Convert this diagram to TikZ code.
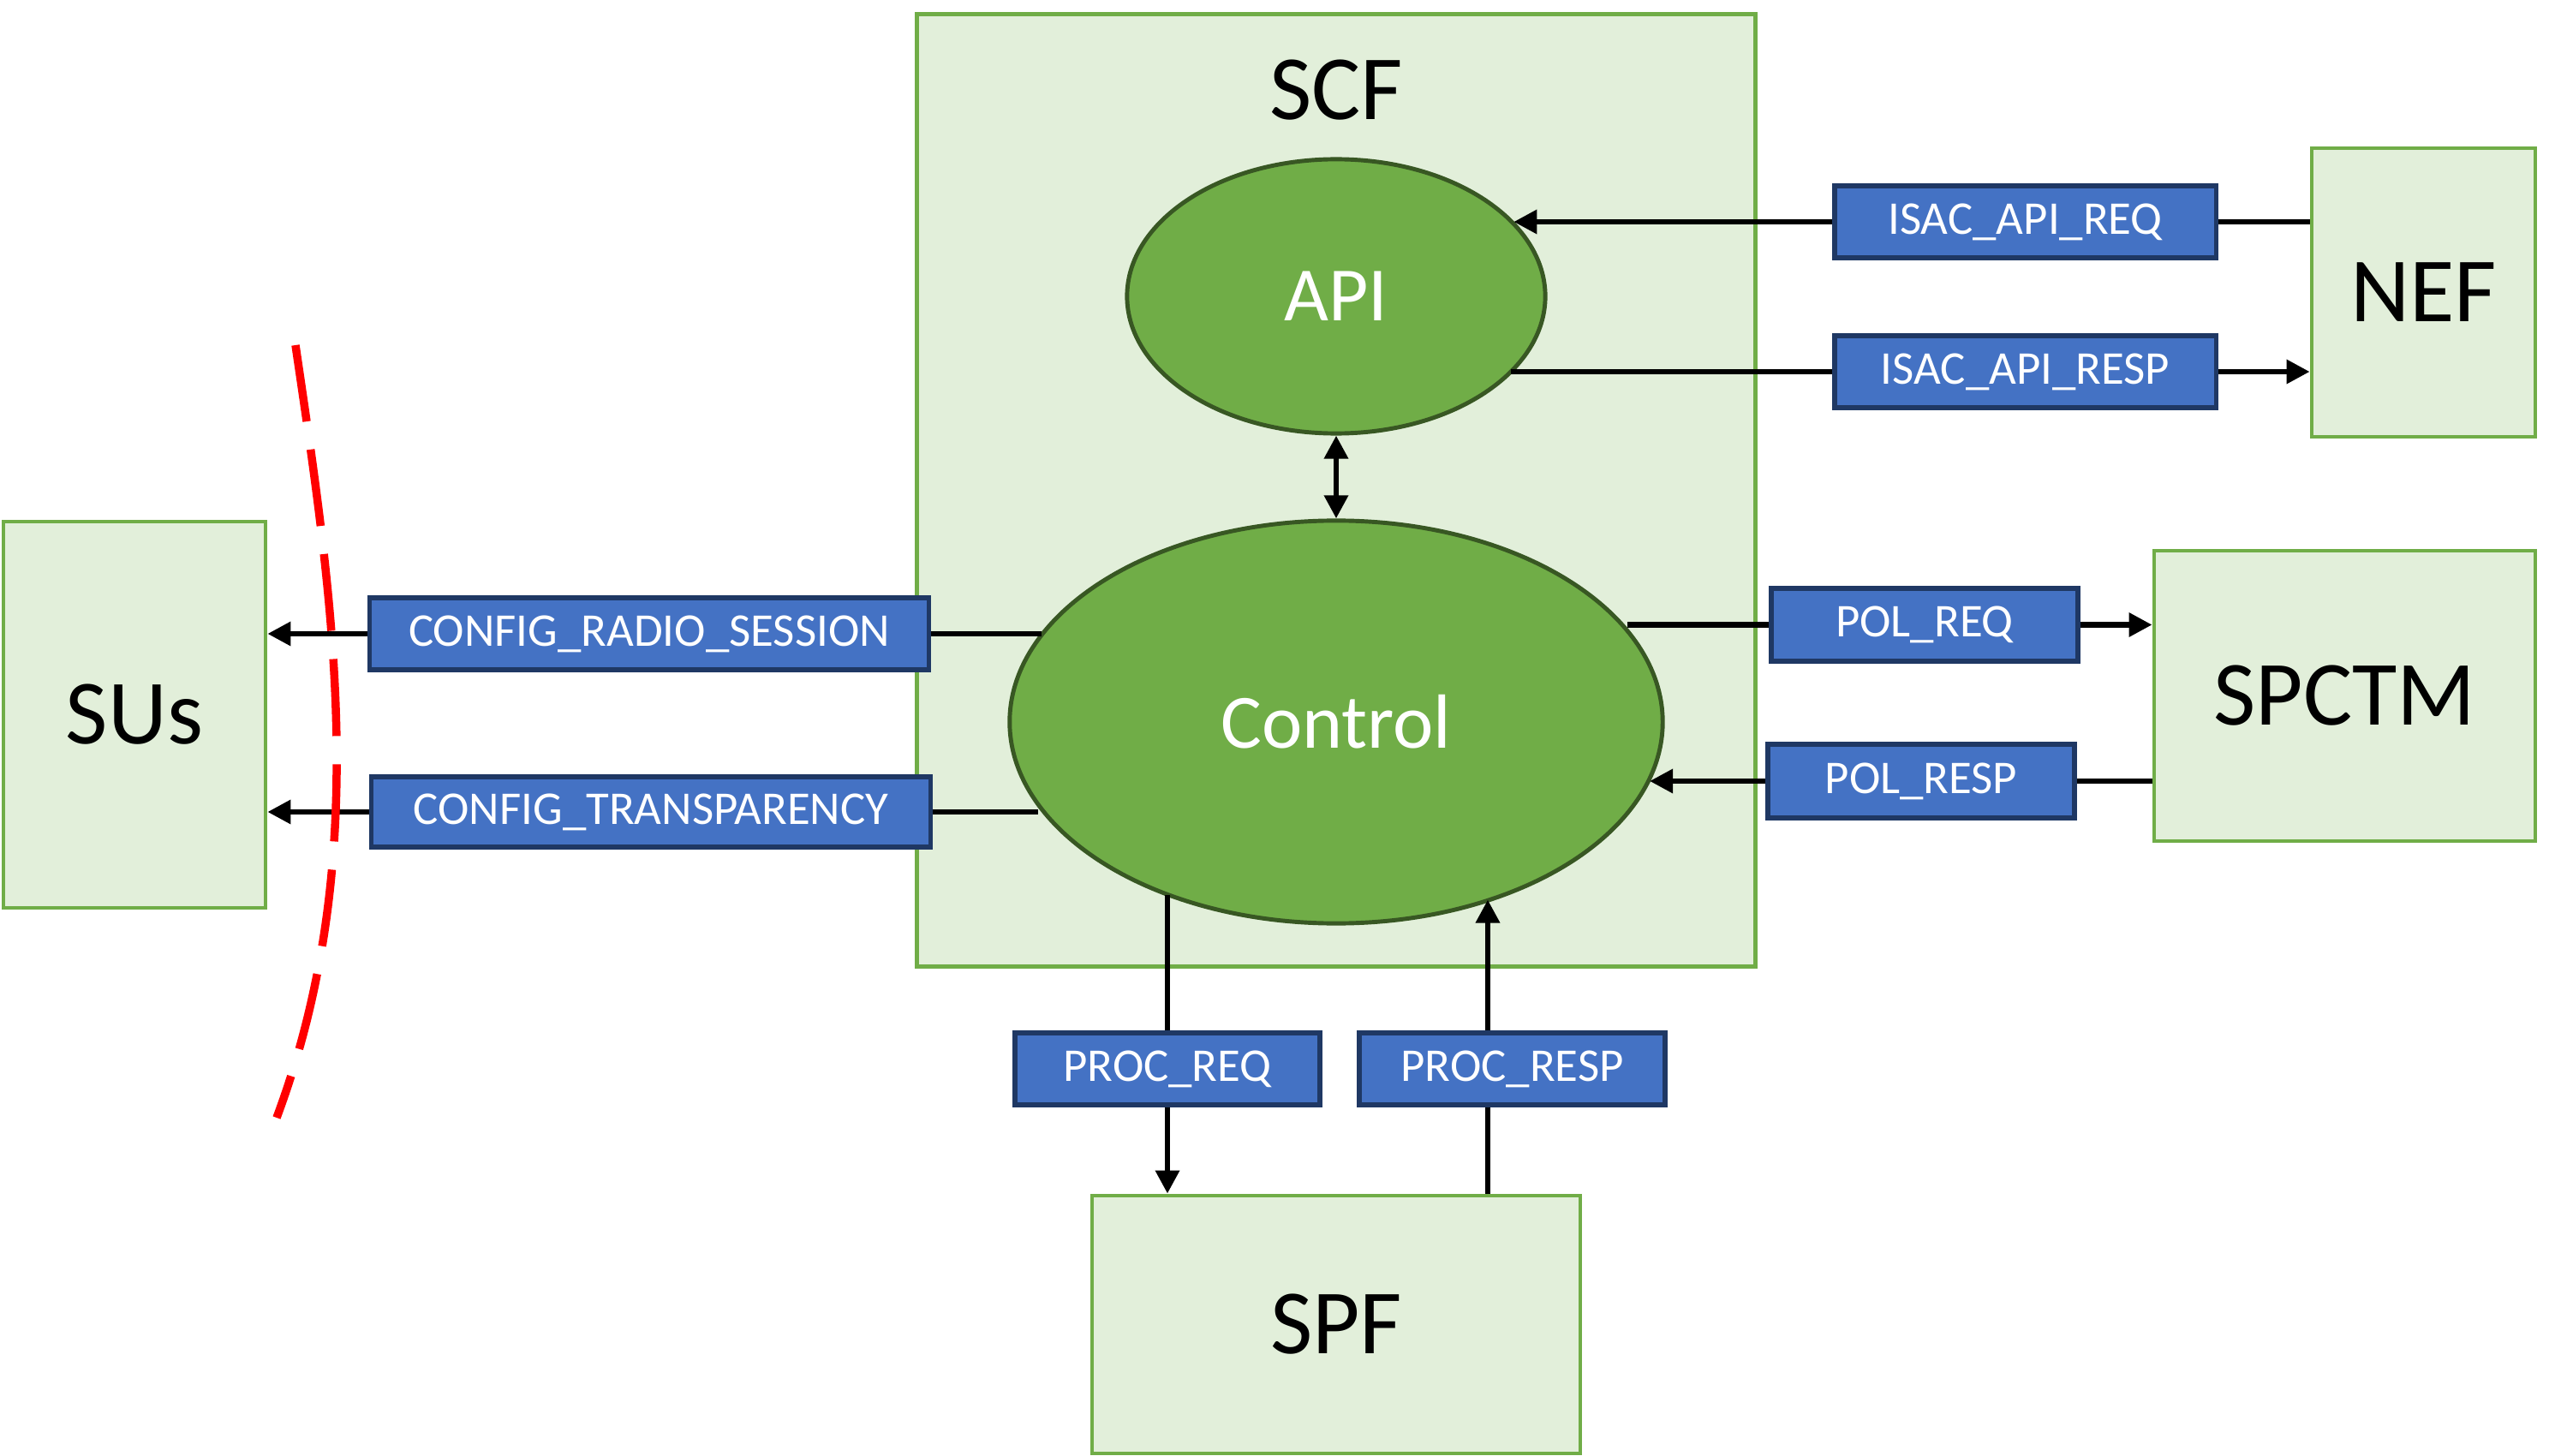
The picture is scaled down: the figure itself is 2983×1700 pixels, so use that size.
\documentclass[tikz,border=0pt]{standalone}
\usepackage{fontspec}
\setmainfont{Carlito}
\usetikzlibrary{arrows.meta,shapes.geometric}
\definecolor{boxfill}{HTML}{E2EFDA}
\definecolor{boxline}{HTML}{70AD47}
\definecolor{ellfill}{HTML}{70AD47}
\definecolor{ellline}{HTML}{385723}
\definecolor{lblfill}{HTML}{4472C4}
\definecolor{lblline}{HTML}{1F3864}
\definecolor{cutred}{HTML}{FF0000}
\tikzset{
  entity/.style={draw=boxline, fill=boxfill, line width=1.3pt, inner sep=0pt, font=\fontsize{30.5}{36}\selectfont},
  bigtext/.style={inner sep=0pt, font=\fontsize{30.5}{36}\selectfont},
  func/.style={ellipse, draw=ellline, fill=ellfill, line width=1.4pt, text=white, inner sep=0pt, font=\fontsize{25.5}{30}\selectfont},
  msg/.style={draw=lblline, fill=lblfill, line width=1.5pt, text=white, inner sep=0pt, minimum height=0.84cm, font=\fontsize{15.6}{18}\selectfont},
  flow/.style={line width=1.8pt, -{Triangle[length=7.7pt,width=7.7pt]}},
  flowboth/.style={line width=1.8pt, {Triangle[length=7.7pt,width=7.7pt]}-{Triangle[length=7.7pt,width=7.7pt]}},
  plainline/.style={line width=1.8pt},
  cutline/.style={draw=cutred, line width=2.7pt, dash pattern=on 25.6pt off 9.4pt},
}
\begin{document}
\begin{tikzpicture}[x=0.01cm,y=-0.01cm]
\useasboundingbox (0,0) rectangle (2983,1700);
% containers
\node[entity, minimum width=9.78cm, minimum height=11.11cm] (scf) at (1560,572.5) {};
\node[bigtext] (scftext) at (1560,105) {SCF};
\node[entity, minimum width=2.61cm, minimum height=3.37cm] (nef) at (2829.5,341.5) {NEF};
\node[entity, minimum width=4.45cm, minimum height=3.39cm] (spctm) at (2737.5,812.5) {SPCTM};
\node[entity, minimum width=3.06cm, minimum height=4.51cm] (sus) at (157,834.5) {SUs};
\node[entity, minimum width=5.70cm, minimum height=3.01cm] (spf) at (1560,1546.5) {SPF};
% functions
\node[func, minimum width=4.88cm, minimum height=3.20cm] (api) at (1560,346) {API};
\node[func, minimum width=7.62cm, minimum height=4.70cm] (ctrl) at (1560,843) {Control};
% messages
\node[msg, minimum width=4.45cm] (isacreq) at (2364.5,259) {ISAC\_API\_REQ};
\node[msg, minimum width=4.45cm] (isacresp) at (2364.5,434) {ISAC\_API\_RESP};
\node[msg, minimum width=6.52cm] (crs) at (758,740) {CONFIG\_RADIO\_SESSION};
\node[msg, minimum width=6.52cm, minimum height=0.82cm] (ctr) at (760,948) {CONFIG\_TRANSPARENCY};
\node[msg, minimum width=3.58cm, minimum height=0.85cm] (polreq) at (2247,729.5) {POL\_REQ};
\node[msg, minimum width=3.58cm, minimum height=0.86cm] (polresp) at (2243,912) {POL\_RESP};
\node[msg, minimum width=3.56cm] (procreq) at (1363,1248) {PROC\_REQ};
\node[msg, minimum width=3.57cm] (procresp) at (1765.5,1248) {PROC\_RESP};
\coordinate (respbot) at ([xshift=-0.285cm]procresp.south);
\coordinate (resptop) at ([xshift=-0.285cm]procresp.north);
% connectors
\draw[plainline] (isacreq.east -| nef.west) -- (isacreq.east);
\draw[flow] (isacreq.west) -- (isacreq.west -| api.23);
\draw[plainline] (isacresp.west -| api.336) -- (isacresp.west);
\draw[flow] (isacresp.east) -- (isacresp.east -| nef.west);
\draw[flowboth] (api.south) -- (ctrl.north);
\draw[plainline] (crs.east -| ctrl.163.3) -- (crs.east);
\draw[flow] (crs.west) -- (crs.west -| sus.east);
\draw[plainline] (ctr.east -| ctrl.196.9) -- (ctr.east);
\draw[flow] (ctr.west) -- (ctr.west -| sus.east);
\draw[plainline] (polreq.west -| ctrl.18.9) -- (polreq.west);
\draw[flow] (polreq.east) -- (polreq.east -| spctm.west);
\draw[plainline] (polresp.east -| spctm.west) -- (polresp.east);
\draw[flow] (polresp.west) -- (polresp.west -| ctrl.349.1);
\draw[plainline] (procreq.north |- ctrl.225.4) -- (procreq.north);
\draw[flow] (procreq.south) -- (procreq.south |- spf.north);
\draw[plainline] (respbot |- spf.north) -- (respbot);
\draw[flow] (resptop) -- (resptop |- ctrl.312.5);
% red boundary
\draw[cutline] (345,403) .. controls (389.4,704) and (435.3,1004) .. (323,1305);
\end{tikzpicture}
\end{document}
